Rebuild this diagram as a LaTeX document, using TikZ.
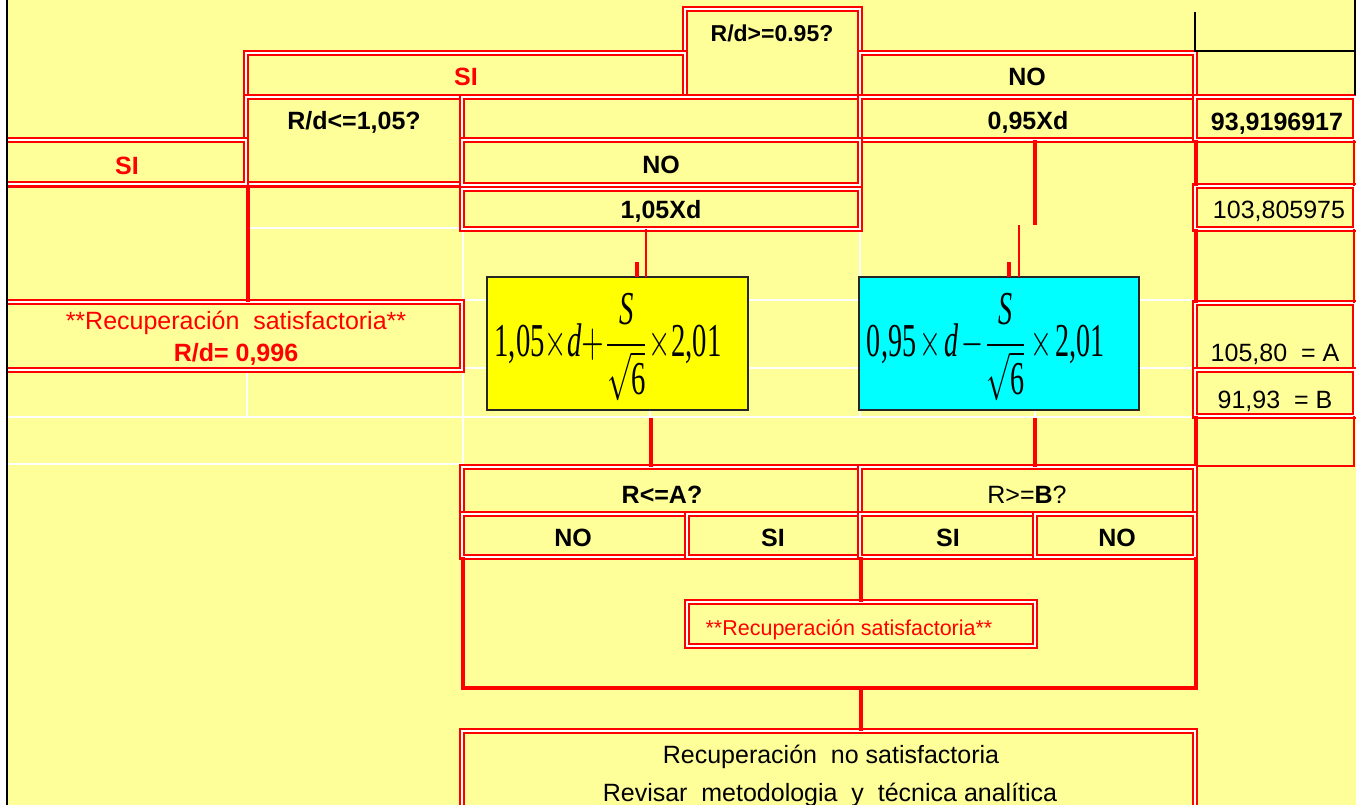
\documentclass[tikz,border=0pt]{standalone}
\usepackage{amsmath}
\usepackage{graphicx}
\usepackage{fontspec}
\setmainfont{Liberation Sans}
\newfontfamily\tms{Liberation Serif}
\usetikzlibrary{fit}
\definecolor{bgy}{HTML}{FFFF99}
\definecolor{rd}{HTML}{FF0000}
\definecolor{yb}{HTML}{FFFF00}
\definecolor{cy}{HTML}{00FFFF}
\tikzset{
 dbox/.style={rectangle, draw=rd, line width=2pt, double=white, double distance=1.8pt, fill=bgy, inner sep=0pt, outer sep=0pt},
 gridln/.style={white, line width=2pt},
 conn/.style={rd, line width=4pt},
 thinconn/.style={rd, line width=1.6pt},
 stubln/.style={rd, line width=3.5pt},
 edgethick/.style={rd, line width=3.5pt},
 edgethin/.style={rd, line width=1.8pt},
 txt/.style={inner sep=0pt, anchor=base, font=\fontsize{25}{30}\selectfont},
 bt/.style={inner sep=0pt, anchor=base, font=\fontsize{25}{30}\selectfont\bfseries},
 fbox/.style={rectangle, draw=black!85, line width=2pt, inner sep=0pt, outer sep=0pt},
 blk/.style={black, line width=2pt},
}
\newcommand\bx[6][]{\node[dbox,#1,fit={(#3,#4) (#5,#6)}] (#2) {};}
\begin{document}
\begin{tikzpicture}[x=1pt,y=-1pt]
\useasboundingbox (0,0) rectangle (1356,805);
\fill[white] (0,0) rectangle (1356,805);
\begin{scope}
\clip (8,0) rectangle (1356,805);
\fill[bgy] (0,0) rectangle (1356,805);
% grid lines
\draw[gridln] (248,228) -- (462,228);
\draw[gridln] (462,300) -- (1195,300);
\draw[gridln] (462,368) -- (1195,368);
\draw[gridln] (8,417) -- (1195,417);
\draw[gridln] (8,464) -- (462,464);
\draw[gridln] (247,372) -- (247,417);
\draw[gridln] (463,228) -- (463,467);
\draw[gridln] (860,228) -- (860,417);
\draw[gridln] (650,300) -- (650,417);
\draw[gridln] (1035,300) -- (1035,417);
% boxes
\bx{q1}{685}{9}{860}{97}
\bx{si1}{246}{53}{685}{97}
\bx{no1}{860}{53}{1195}{97}
\bx{rd}{246}{97}{462}{184}
\bx{emp}{462}{97}{860}{140}
\bx{b095}{860}{97}{1195}{140}
\bx{b939}{1195}{97}{1355}{140}
\bx{si2}{2}{140}{246}{184}
\bx{no2}{462}{140}{860}{185}
\bx{b105}{462}{189}{860}{229}
\bx{b103}{1195}{186}{1355}{229}
\bx{recL}{2}{302}{462}{370}
\bx{bA}{1195}{303}{1355}{370}
\bx{bB}{1195}{370}{1355}{416}
\bx{bRA}{462}{467}{860}{514}
\bx{bRB}{860}{467}{1195}{514}
\bx{no3}{462}{514}{687}{557}
\bx{si3}{687}{514}{860}{557}
\bx{si4}{860}{514}{1035}{557}
\bx{no4}{1035}{514}{1195}{557}
\bx{rec2}{687}{602}{1035}{646}
\bx{bot}{462}{731}{1195}{830}
% single cell borders
\coordinate (hl1) at (2,187);
\coordinate (hl2) at (462,187);
\draw[rd, line width=2.5pt] (hl1) -- (hl2);
\draw[edgethick] (1196,140) -- (1196,186);
\draw[edgethin] (1354,140) -- (1354,186);
\draw[edgethick] (1196,229) -- (1196,303);
\draw[edgethin] (1354,229) -- (1354,303);
\draw[edgethick] (1196,416) -- (1196,466);
\draw[edgethin] (1354,416) -- (1354,466) -- (1196,466);
% formula boxes
\node[fbox, fill=yb, fit={(487,277) (748,410)}] (fy) {};
\node[fbox, fill=cy, fit={(859,277) (1139,410)}] (fc) {};
\node[inner sep=0pt] (fyt) at (608,347) {\resizebox*{227pt}{107pt}{$\text{\tms 1,05}{\times}\text{\tms\itshape d}{+}\dfrac{\text{\tms\itshape S}}{\sqrt{\text{\tms 6}}}{\times}\text{\tms 2,01}$}};
\node[inner sep=0pt] (fct) at (986,347) {\resizebox*{238pt}{107pt}{$\text{\tms 0,95}\mkern2mu{\times}\mkern2mu\text{\tms\itshape d}\mkern2mu{-}\dfrac{\text{\tms\itshape S}}{\sqrt{\text{\tms 6}}}\mkern2mu{\times}\mkern2mu\text{\tms 2,01}$}};
% connectors
\draw[conn] (hl1 -| 248,0) -- (recL.north -| 248,0);
\draw[thinconn] (b105.south -| 646,0) -- (fy.north -| 646,0);
\coordinate (s1) at (637,262);
\draw[stubln] (s1) -- (fy.north -| s1);
\coordinate (c2) at (1035,225);
\draw[conn] (b095.south -| c2) -- (c2);
\coordinate (c3) at (1019,225);
\draw[thinconn] (c3) -- (fc.north -| c3);
\coordinate (s2) at (1009,262);
\draw[stubln] (s2) -- (fc.north -| s2);
\coordinate (yd) at (651,418);
\draw[conn] (yd) -- (bRA.north -| yd);
\coordinate (cd) at (1035,418);
\draw[conn] (cd) -- (bRB.north -| cd);
\coordinate (brL) at (463,688);
\coordinate (brR) at (1196,688);
\draw[conn] (no3.south west -| brL) -- (brL) -- (brR) -- (no4.south east -| brR);
\coordinate (vm) at (861,557);
\draw[conn] (vm) -- (rec2.north -| vm);
\coordinate (bm) at (861,688);
\draw[conn] (bm) -- (bot.north -| bm);
% texts
\node[bt, font=\fontsize{23}{28}\selectfont\bfseries] (tq1) at (772,42) {R/d>=0.95?};
\node[bt, text=rd] (tsi1) at (466,86) {SI};
\node[bt] (tno1) at (1027,86) {NO};
\node[bt] (trd) at (354,130) {R/d<=1,05?};
\node[bt] (t095) at (1028,130) {0,95Xd};
\node[bt] (t939) at (1277,131) {93,9196917};
\node[bt, text=rd] (tsi2) at (127,175) {SI};
\node[bt] (tno2) at (661,174) {NO};
\node[bt] (t105) at (661,218) {1,05Xd};
\node[txt] (t103) at (1279,218) {103,805975};
\node[txt, text=rd] (trec1) at (236,329) {**Recuperación\ \ satisfactoria**};
\node[bt, text=rd] (trec1b) at (236,361) {R/d= 0,996};
\node[txt] (tA) at (1275,361) {105,80\ \ = A};
\node[txt] (tB) at (1275,408) {91,93\ \ = B};
\node[bt] (tRA) at (662,503) {R<=A?};
\node[txt] (tRB) at (1027,503) {R>=\textbf{B}?};
\node[bt] (tno3) at (573,546) {NO};
\node[bt] (tsi3) at (773,546) {SI};
\node[bt] (tsi4) at (948,546) {SI};
\node[bt] (tno4) at (1117,546) {NO};
\node[txt, text=rd, font=\fontsize{21.5}{26}\selectfont] (trec2) at (849,635) {**Recuperación satisfactoria**};
\node[txt] (tbot1) at (831,763) {Recuperación\ \ no satisfactoria};
\node[txt] (tbot2) at (830,801) {Revisar\ \ metodologia\ \ y\ \ técnica analítica};
\end{scope}
% black lines
\draw[blk] (7,0) -- (7,805);
\draw[blk] (1195,12) -- (1195,51) -- (1356,51);
\draw[blk] (1355,0) -- (1355,95);
\end{tikzpicture}
\end{document}
